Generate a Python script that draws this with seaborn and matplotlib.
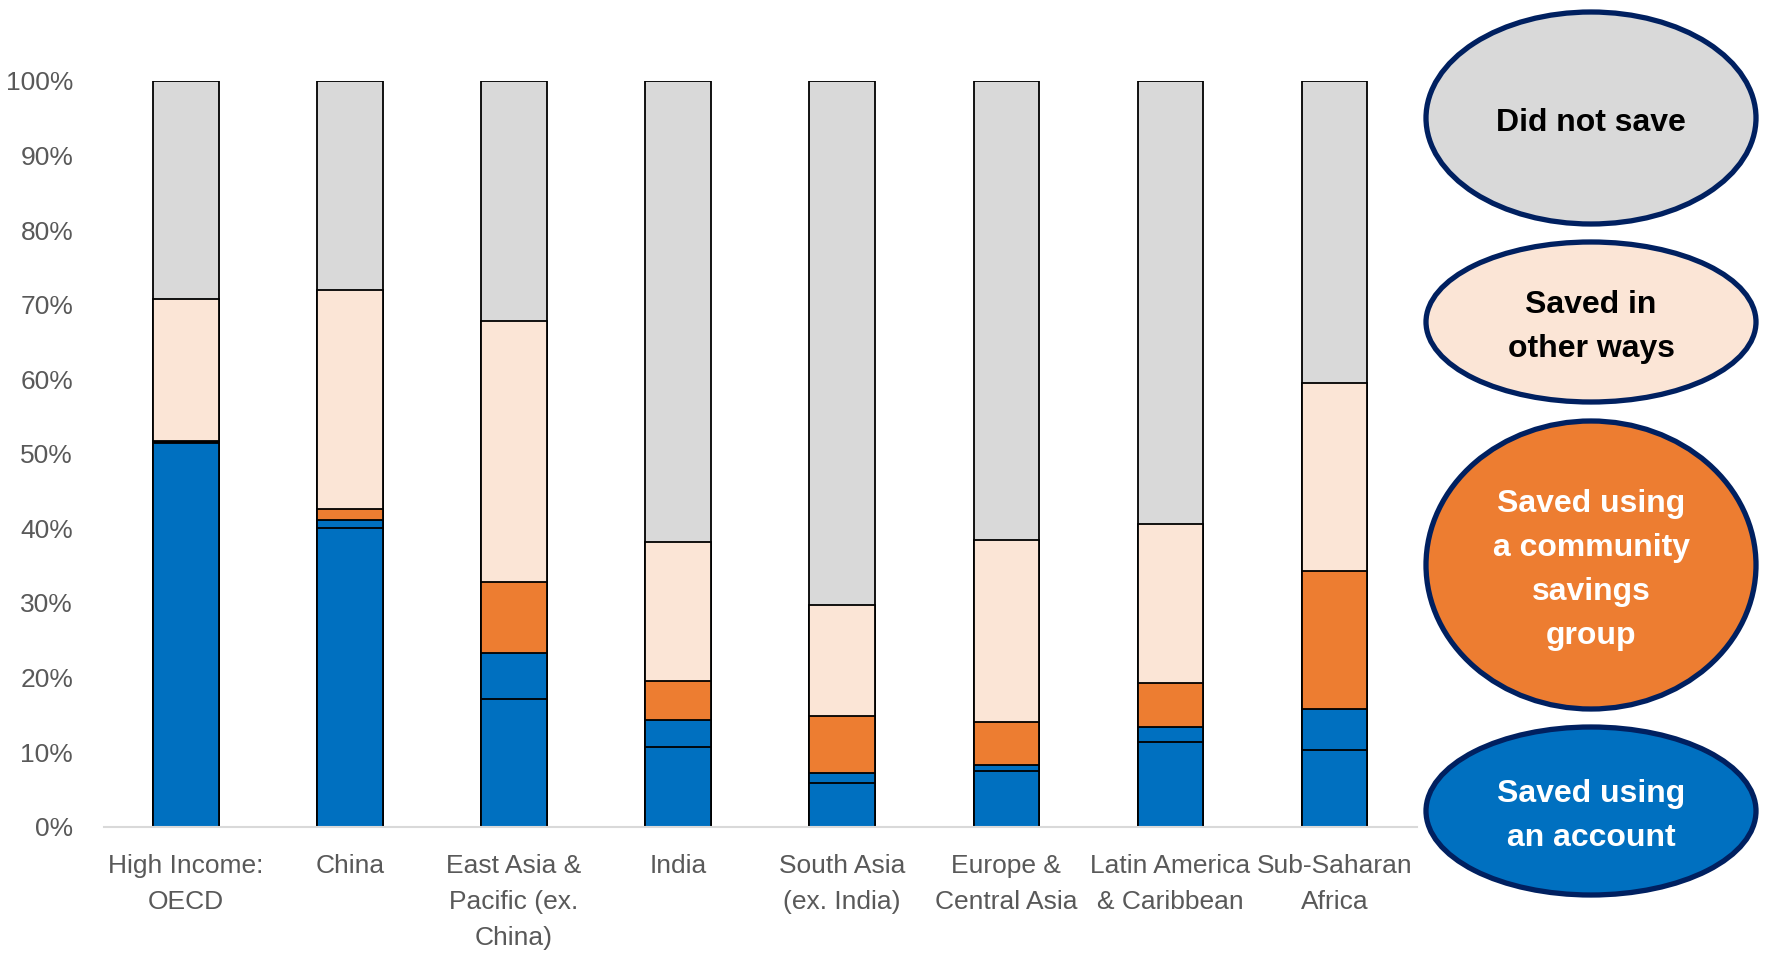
import numpy as np
import pandas as pd
import matplotlib
matplotlib.use("Agg")
import matplotlib.pyplot as plt
from matplotlib.patches import Ellipse
import seaborn as sns

# Regions and savings shares (% of adults)
regions = ["High Income:\nOECD", "China", "East Asia &\nPacific (ex.\nChina)", "India",
           "South Asia\n(ex. India)", "Europe &\nCentral Asia", "Latin America\n& Caribbean",
           "Sub-Saharan\nAfrica"]
account_only = [51.4, 40.0, 17.1, 10.7, 5.8, 7.4, 11.3, 10.3]
account_and_group = [0.2, 1.1, 6.2, 3.6, 1.4, 0.9, 2.1, 5.5]
community_group = [0.1, 1.5, 9.5, 5.2, 7.6, 5.7, 5.8, 18.5]
other_ways = [19.0, 29.4, 35.0, 18.7, 14.9, 24.4, 21.4, 25.2]
did_not_save = [29.3, 28.0, 32.2, 61.8, 70.3, 61.6, 59.4, 40.5]

legend_labels = ["Did not save", "Saved in\nother ways", "Saved using\na community\nsavings\ngroup",
                 "Saved using\nan account"]

BLUE = "#0070C0"
ORANGE = "#ED7D31"
PEACH = "#FBE5D6"
GREY = "#D9D9D9"
NAVY = "#002060"
TICK = "#595959"

sns.set_theme(style="white")
plt.rcParams["font.family"] = ["Liberation Sans", "DejaVu Sans"]

df = pd.DataFrame({
    "region": regions,
    "a1": account_only,
    "a2": account_and_group,
    "cg": community_group,
    "ow": other_ways,
    "dn": did_not_save,
})
# cumulative tops of each stacked layer
df["t1"] = df["a1"]
df["t2"] = df["t1"] + df["a2"]
df["t3"] = df["t2"] + df["cg"]
df["t4"] = df["t3"] + df["ow"]
df["t5"] = df["t4"] + df["dn"]

fig = plt.figure(figsize=(17.67, 9.56), dpi=100)
ax = fig.add_axes([0.0587, 0.1353, 0.743, 0.780])

layers = [("t5", GREY), ("t4", PEACH), ("t3", ORANGE), ("t2", BLUE), ("t1", BLUE)]
for col, colr in layers:
    sns.barplot(data=df, x="region", y=col, color=colr, width=0.40, edgecolor="black",
                linewidth=1.3, saturation=1, ax=ax, errorbar=None, order=regions)

ax.set_xlim(-0.5, len(regions) - 0.5)
ax.set_ylim(0, 100)
ax.set_yticks(np.arange(0, 101, 10))
ax.set_yticklabels([f"{v}%" for v in range(0, 101, 10)])
ax.set_xlabel("")
ax.set_ylabel("")
ax.tick_params(axis="y", length=0, pad=22, labelsize=19, labelcolor=TICK)
ax.tick_params(axis="x", length=0, pad=20, labelsize=19, labelcolor=TICK)
for lbl in ax.get_xticklabels():
    lbl.set_linespacing(1.62)
for s in ["top", "right", "left"]:
    ax.spines[s].set_visible(False)
ax.spines["bottom"].set_color(GREY)
ax.spines["bottom"].set_linewidth(1.5)

# Legend drawn as labelled ellipses in pixel coordinates
lax = fig.add_axes([0, 0, 1, 1])
lax.set_xlim(0, 1767)
lax.set_ylim(956, 0)
lax.axis("off")
ellipses = [
    (1591, 118, 330, 212, GREY, "black"),
    (1591, 322, 330, 160, PEACH, "black"),
    (1591, 565, 330, 288, ORANGE, "white"),
    (1591, 811, 330, 168, BLUE, "white"),
]
narrow = ["Liberation Sans Narrow", "Liberation Sans", "DejaVu Sans"]
for (cx, cy, w, h, fc, tc), text in zip(ellipses, legend_labels):
    lax.add_patch(Ellipse((cx, cy), w, h, facecolor=fc, edgecolor=NAVY, linewidth=3.8))
    lax.text(cx, cy + 5, text, ha="center", va="center", color=tc, fontsize=23,
             fontweight="bold", family=narrow, linespacing=1.62)

fig.savefig("out.png", dpi=100)
